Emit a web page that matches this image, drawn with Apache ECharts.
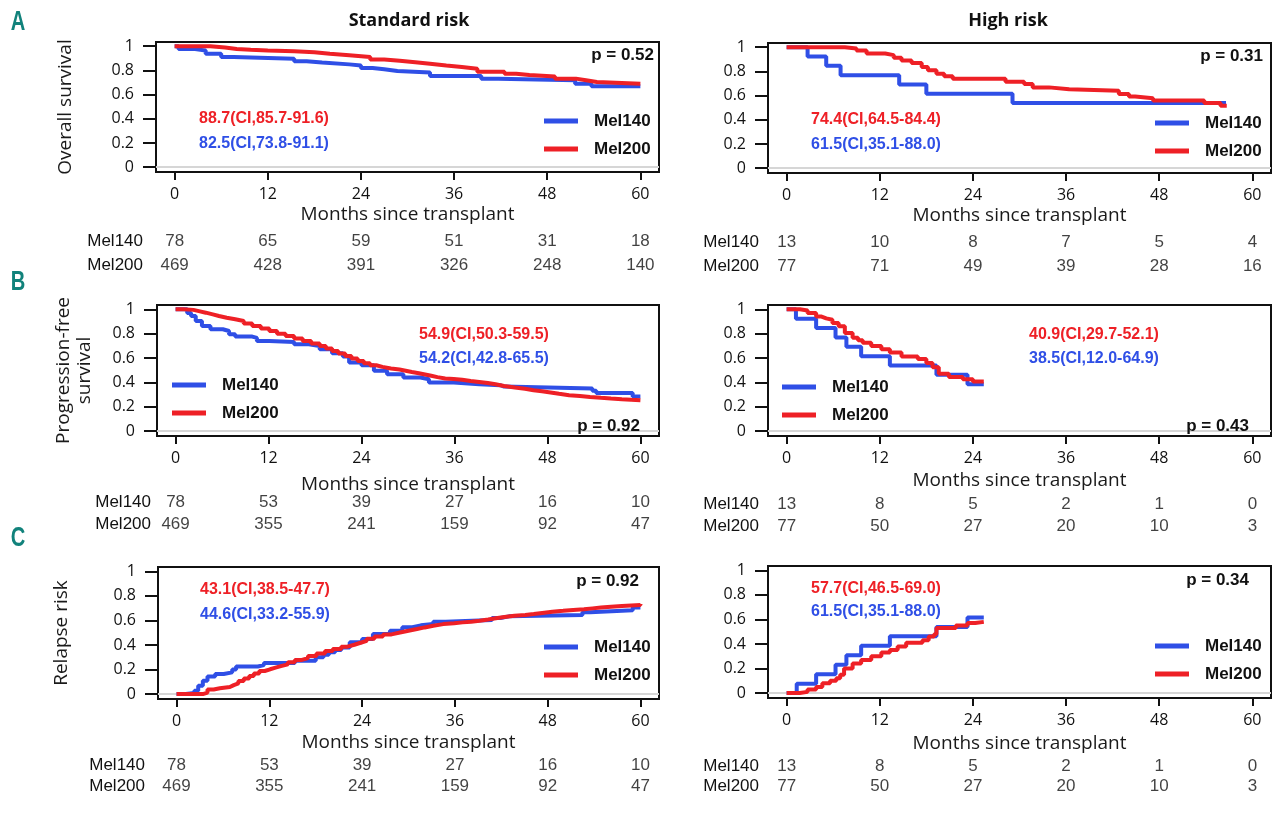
<!DOCTYPE html>
<html><head><meta charset="utf-8">
<script src="https://cdn.jsdelivr.net/npm/echarts@6/dist/echarts.min.js"></script>
<style>html,body{margin:0;padding:0;background:#fff}#c{width:1280px;height:813px}</style>
</head><body><div id="c"></div><script>
// ---------- data ----------
const monthTicks = [0, 12, 24, 36, 48, 60];
const probTicks = [0, 0.2, 0.4, 0.6, 0.8, 1];
const groups = ['Mel140', 'Mel200'];
const riskTimes = [0, 12, 24, 36, 48, 60];

// Overall survival, standard risk
const osStd140 = [[0,1],[0.5,0.978],[2.4,0.964],[4,0.937],[6,0.91],[7.6,0.896],[15.4,0.875],[17,0.865],[19,0.85],[22.5,0.84],[24,0.82],[25.5,0.81],[27,0.795],[28.7,0.782],[32.9,0.754],[39.5,0.732],[41.7,0.719],[51.6,0.69],[53.7,0.67],[60,0.67]];
const osStd200 = [[0,1],[4.6,0.99],[6.5,0.978],[8,0.97],[9.8,0.964],[12,0.958],[15.4,0.95],[18,0.937],[20,0.925],[22.5,0.91],[25.2,0.89],[27,0.88],[29,0.868],[31,0.855],[32.9,0.84],[35,0.828],[37,0.814],[39,0.79],[42.5,0.773],[44,0.762],[45.7,0.75],[49,0.732],[51.7,0.719],[53,0.705],[54.4,0.69],[60,0.685]];
// Overall survival, high risk
const osHigh140 = [[0,1],[2.7,0.923],[5.1,0.846],[6.95,0.769],[14.5,0.692],[18,0.615],[29.1,0.538],[56.6,0.538]];
const osHigh200 = [[0,1],[7.5,0.99],[9,0.973],[10.3,0.948],[12.7,0.935],[13.8,0.913],[14.8,0.89],[16.1,0.87],[17.4,0.836],[18.2,0.81],[19.3,0.78],[20.3,0.76],[21.4,0.74],[28.2,0.714],[30.6,0.695],[31.7,0.668],[33.8,0.652],[36.4,0.64],[42.8,0.614],[44.1,0.592],[44.9,0.579],[47.2,0.559],[53.8,0.538],[55.9,0.516],[56.7,0.516]];
// Progression-free survival, standard risk
const pfsStd140 = [[0,1],[1.5,0.97],[2,0.945],[2.6,0.904],[3.4,0.863],[4.5,0.836],[6.1,0.822],[6.9,0.795],[7.7,0.776],[9.9,0.765],[10.5,0.74],[12.1,0.732],[15.3,0.713],[17.2,0.699],[18.6,0.672],[20.2,0.639],[21.6,0.612],[22.4,0.563],[24,0.541],[25.6,0.495],[27.3,0.467],[29.4,0.44],[31.6,0.426],[32.7,0.399],[35.9,0.385],[39.2,0.377],[41.9,0.366],[42.4,0.35],[53.8,0.331],[54.3,0.312],[59,0.285],[60,0.285]];
const pfsStd200 = [[0,1],[1,0.995],[2.3,0.985],[3,0.972],[3.9,0.958],[4.8,0.945],[5.6,0.93],[6.6,0.918],[7.7,0.904],[8.8,0.884],[9.9,0.863],[11,0.842],[12.1,0.822],[13.1,0.8],[14.2,0.781],[15.3,0.76],[16.4,0.74],[17.5,0.72],[18.6,0.699],[19.4,0.678],[20.2,0.658],[21,0.637],[21.9,0.617],[22.7,0.596],[23.5,0.576],[24.3,0.558],[25.1,0.541],[25.9,0.527],[26.7,0.514],[27.8,0.505],[28.9,0.495],[29.7,0.485],[30.5,0.475],[31.4,0.465],[32.2,0.454],[33,0.443],[33.8,0.432],[34.8,0.427],[35.9,0.421],[37,0.412],[38.1,0.404],[39.2,0.395],[40.3,0.385],[41.3,0.371],[42.4,0.358],[43.8,0.347],[45.1,0.336],[46.2,0.327],[47.3,0.317],[48.4,0.306],[49.5,0.295],[50.8,0.288],[52.2,0.281],[53.5,0.274],[54.9,0.268],[56.2,0.262],[57.6,0.257],[58.8,0.253],[60,0.249]];
// Progression-free survival, high risk
const pfsHigh140 = [[0,1],[1.2,0.923],[3.8,0.846],[6.3,0.769],[7.7,0.692],[9.6,0.615],[13.3,0.538],[19.3,0.462],[23.3,0.385],[25.4,0.385]];
const pfsHigh200 = [[0,1],[1.7,0.99],[2.7,0.97],[3.8,0.94],[4.5,0.925],[5.1,0.914],[5.9,0.887],[6.7,0.86],[7.5,0.806],[8.5,0.766],[9.2,0.745],[9.8,0.726],[10.9,0.699],[12.2,0.672],[13.3,0.645],[14.8,0.613],[16.9,0.591],[18,0.559],[18.8,0.524],[19.6,0.47],[20.9,0.444],[22.7,0.425],[24,0.408],[25.4,0.405]];
// Relapse risk, standard risk
const relStd140 = [[0,0],[1.2,0.01],[2.3,0.027],[2.8,0.068],[3.4,0.109],[4,0.144],[5,0.163],[6.1,0.177],[7.2,0.2],[7.7,0.225],[10.5,0.236],[11.3,0.253],[15.3,0.272],[18,0.3],[19,0.32],[19.7,0.34],[20.5,0.36],[21.3,0.38],[22.4,0.422],[24,0.449],[25.4,0.49],[27.6,0.516],[29.2,0.544],[30.5,0.56],[31.6,0.571],[33.2,0.59],[34.8,0.603],[40.8,0.62],[41.9,0.633],[43,0.644],[52.5,0.666],[53.5,0.682],[59,0.706],[60,0.706]];
const relStd200 = [[0,0],[2.6,0],[3.4,0.012],[4,0.038],[4.8,0.048],[5.6,0.057],[6.9,0.073],[7.4,0.088],[8,0.106],[8.7,0.126],[9.4,0.147],[10,0.167],[10.7,0.188],[11.4,0.202],[12.1,0.215],[12.8,0.228],[13.5,0.242],[14.4,0.26],[15.3,0.277],[16.1,0.293],[17,0.31],[18.1,0.33],[19.2,0.35],[20.2,0.368],[21.3,0.386],[22.1,0.402],[23,0.418],[23.8,0.434],[24.6,0.451],[25.6,0.468],[26.7,0.486],[27.8,0.501],[28.9,0.516],[30,0.53],[31.1,0.543],[32.1,0.556],[33.2,0.57],[34.5,0.577],[35.9,0.584],[37,0.59],[38.1,0.597],[39.2,0.607],[40.3,0.617],[41.3,0.627],[42.4,0.638],[43.7,0.645],[45.1,0.652],[46.2,0.661],[47.3,0.671],[48.6,0.678],[50,0.685],[51.3,0.691],[52.7,0.698],[53.8,0.705],[54.9,0.712],[56.2,0.718],[57.6,0.725],[60,0.733]];
// Relapse risk, high risk
const relHigh140 = [[0,0],[1.3,0.077],[3.8,0.154],[6.3,0.231],[7.7,0.308],[9.6,0.385],[13.3,0.462],[19.3,0.538],[23.3,0.615],[25.4,0.615]];
const relHigh200 = [[0,0],[1.7,0.01],[2.7,0.03],[3.8,0.05],[4.6,0.08],[5.6,0.1],[6.4,0.12],[6.9,0.15],[7.4,0.2],[8.5,0.24],[9.6,0.27],[10.9,0.3],[12.2,0.33],[13.3,0.35],[14.3,0.38],[15.4,0.41],[17.5,0.43],[18.3,0.46],[19,0.48],[19.3,0.53],[21.8,0.55],[23.3,0.57],[24.3,0.58],[25.4,0.58]];

// Numbers at risk
const riskOsStd140 = [78, 65, 59, 51, 31, 18];
const riskOsStd200 = [469, 428, 391, 326, 248, 140];
const riskOsHigh140 = [13, 10, 8, 7, 5, 4];
const riskOsHigh200 = [77, 71, 49, 39, 28, 16];
const riskPfsStd140 = [78, 53, 39, 27, 16, 10];
const riskPfsStd200 = [469, 355, 241, 159, 92, 47];
const riskPfsHigh140 = [13, 8, 5, 2, 1, 0];
const riskPfsHigh200 = [77, 50, 27, 20, 10, 3];
const riskRelStd140 = [78, 53, 39, 27, 16, 10];
const riskRelStd200 = [469, 355, 241, 159, 92, 47];
const riskRelHigh140 = [13, 8, 5, 2, 1, 0];
const riskRelHigh200 = [77, 50, 27, 20, 10, 3];

// Texts
const colTitles = ['Standard risk', 'High risk'];
const rowLetters = ['A', 'B', 'C'];
const yNames = ['Overall survival', 'Progression-free\nsurvival', 'Relapse risk'];
const xName = 'Months since transplant';
const ciTexts = [
  ['88.7(CI,85.7-91.6)', '82.5(CI,73.8-91.1)'],
  ['74.4(CI,64.5-84.4)', '61.5(CI,35.1-88.0)'],
  ['54.9(CI,50.3-59.5)', '54.2(CI,42.8-65.5)'],
  ['40.9(CI,29.7-52.1)', '38.5(CI,12.0-64.9)'],
  ['43.1(CI,38.5-47.7)', '44.6(CI,33.2-55.9)'],
  ['57.7(CI,46.5-69.0)', '61.5(CI,35.1-88.0)']
];
const pTexts = ['p = 0.52', 'p = 0.31', 'p = 0.92', 'p = 0.43', 'p = 0.92', 'p = 0.34'];

// ---------- layout (positions / styles only) ----------
const BLUE = '#2f4fe6', RED = '#ee2026';
const layout = [
  {box:[156,42,659,172], riskTop:229, riskH:48, riskMargin:13, nameGap:33, yNameGap:80, legend:[544,111], ci:[199,119,144], p:[654,55]},
  {box:[768,43,1271,173], riskTop:230, riskH:48, riskMargin:9,  nameGap:33, legend:[1155,113], ci:[811,120,145], p:[1263,56]},
  {box:[157,305,659,436], riskTop:491, riskH:44, riskMargin:6,  nameGap:39, yNameGap:62, legend:[172,375], ci:[419,335,359], p:[640,426]},
  {box:[768,305,1271,436], riskTop:493, riskH:44, riskMargin:9, nameGap:35, legend:[782,377], ci:[1029,335,359], p:[1249,426]},
  {box:[158,567,659,699], riskTop:755, riskH:42, riskMargin:13, nameGap:34, yNameGap:86, legend:[544,637], ci:[200,590,615], p:[639,581]},
  {box:[768,566,1271,698], riskTop:756, riskH:40, riskMargin:9, nameGap:36, legend:[1155,636], ci:[811,589,612], p:[1249,580]}
];
const curves = [
  [osStd140, osStd200], [osHigh140, osHigh200],
  [pfsStd140, pfsStd200], [pfsHigh140, pfsHigh200],
  [relStd140, relStd200], [relHigh140, relHigh200]
];
const risks = [
  [riskOsStd140, riskOsStd200], [riskOsHigh140, riskOsHigh200],
  [riskPfsStd140, riskPfsStd200], [riskPfsHigh140, riskPfsHigh200],
  [riskRelStd140, riskRelStd200], [riskRelHigh140, riskRelHigh200]
];

const grids = [], xAxes = [], yAxes = [], series = [], legends = [], graphics = [];
const XMIN = -2.4, XMAX = 62.4, YMIN = -0.04, YMAX = 1.035;
const tickFont = 'Open Sans';

layout.forEach((L, i) => {
  const [l, t, r, b] = L.box;
  const gi = grids.length;
  grids.push({left:l, top:t, width:r-l, height:b-t, show:true, borderColor:'#111', borderWidth:2, backgroundColor:'#fff'});
  grids.push({left:l, top:L.riskTop, width:r-l, height:L.riskH});
  xAxes.push({
    gridIndex:gi, type:'value', min:XMIN, max:XMAX, position:'bottom',
    axisLine:{show:false, onZero:false}, splitLine:{show:false},
    axisTick:{show:true, customValues:monthTicks, length:8, lineStyle:{color:'#111', width:2}},
    axisLabel:{customValues:monthTicks, margin:14, fontSize:16, fontFamily:tickFont, color:'#111'},
    name:xName, nameLocation:'middle', nameGap:L.nameGap,
    nameTextStyle:{fontFamily:tickFont, fontSize:19, color:'#1a1a1a'}
  });
  xAxes.push({gridIndex:gi+1, type:'value', min:XMIN, max:XMAX, show:false, axisLine:{onZero:false}});
  const ya = {
    gridIndex:gi, type:'value', min:YMIN, max:YMAX, position:'left',
    axisLine:{show:false, onZero:false}, splitLine:{show:false},
    axisTick:{show:true, customValues:probTicks, length:13, lineStyle:{color:'#111', width:2}},
    axisLabel:{customValues:probTicks, margin:22, fontSize:16, fontFamily:tickFont, color:'#111'}
  };
  if (i % 2 === 0) {
    Object.assign(ya, {name:yNames[i/2], nameLocation:'middle', nameGap:L.yNameGap, nameRotate:90,
      nameTextStyle:{fontFamily:tickFont, fontSize:19, color:'#1a1a1a', lineHeight:21}});
  }
  yAxes.push(ya);
  yAxes.push({gridIndex:gi+1, type:'category', data:groups, inverse:true, position:'left',
    axisLine:{show:false, onZero:false}, axisTick:{show:false}, splitLine:{show:false},
    axisLabel:{interval:0, margin:L.riskMargin, fontSize:17, fontFamily:'Liberation Sans', color:'#111'}});

  [BLUE, RED].forEach((col, k) => {
    const s = {
      name:groups[k], type:'line', step:'end', xAxisIndex:gi, yAxisIndex:gi,
      data:curves[i][k], showSymbol:false, symbol:'none', color:col,
      lineStyle:{color:col, width:4}, z:3 + k, animation:false
    };
    if (k === 0) {
      s.markLine = {silent:true, symbol:'none', label:{show:false},
        lineStyle:{color:'#d6d6d6', width:2, type:'solid'}, data:[{yAxis:0}], z:1};
    }
    series.push(s);
  });
  const rd = [];
  groups.forEach((g, k) => riskTimes.forEach((tm, j) => rd.push([tm, g, risks[i][k][j]])));
  series.push({
    type:'scatter', xAxisIndex:gi+1, yAxisIndex:gi+1, data:rd, symbolSize:1,
    itemStyle:{color:'rgba(0,0,0,0)'}, silent:true, animation:false,
    label:{show:true, position:'inside', formatter:p => String(p.value[2]), fontSize:17, fontFamily:'Liberation Sans', color:'#111'}
  });

  legends.push({
    left:L.legend[0], top:L.legend[1], orient:'vertical', padding:0, itemGap:8,
    itemWidth:34, itemHeight:5, icon:'rect', data:groups, selectedMode:false,
    textStyle:{fontFamily:'Liberation Sans', fontWeight:'bold', fontSize:17, color:'#111', lineHeight:20, padding:[0,0,0,11]}
  });

  [RED, BLUE].forEach((col, k) => graphics.push({
    type:'text', x:L.ci[0], y:L.ci[1 + k], z:10,
    style:{text:ciTexts[i][k], fill:col, font:'bold 16px "Liberation Sans"', align:'left', verticalAlign:'middle'}
  }));
  graphics.push({type:'text', x:L.p[0], y:L.p[1], z:10,
    style:{text:pTexts[i], fill:'#111', font:'bold 17px "Liberation Sans"', align:'right', verticalAlign:'middle'}});
});

const titlePos = [[409, 21], [1008, 21]];
colTitles.forEach((tx, k) => graphics.push({type:'text', x:titlePos[k][0], y:titlePos[k][1],
  style:{text:tx, fill:'#111', font:'bold 18px "Open Sans"', align:'center', verticalAlign:'middle'}}));
const letterY = [22, 282, 538];
rowLetters.forEach((tx, k) => graphics.push({type:'text', x:18, y:letterY[k], scaleX:0.72,
  style:{text:tx, fill:'#11827b', font:'bold 28px "Liberation Sans"', align:'center', verticalAlign:'middle'}}));

const chart = echarts.init(document.getElementById('c'), null, {renderer:'canvas'});
chart.setOption({
  animation:false, backgroundColor:'#fff',
  grid:grids, xAxis:xAxes, yAxis:yAxes, series:series, legend:legends, graphic:graphics
});
</script></body></html>
